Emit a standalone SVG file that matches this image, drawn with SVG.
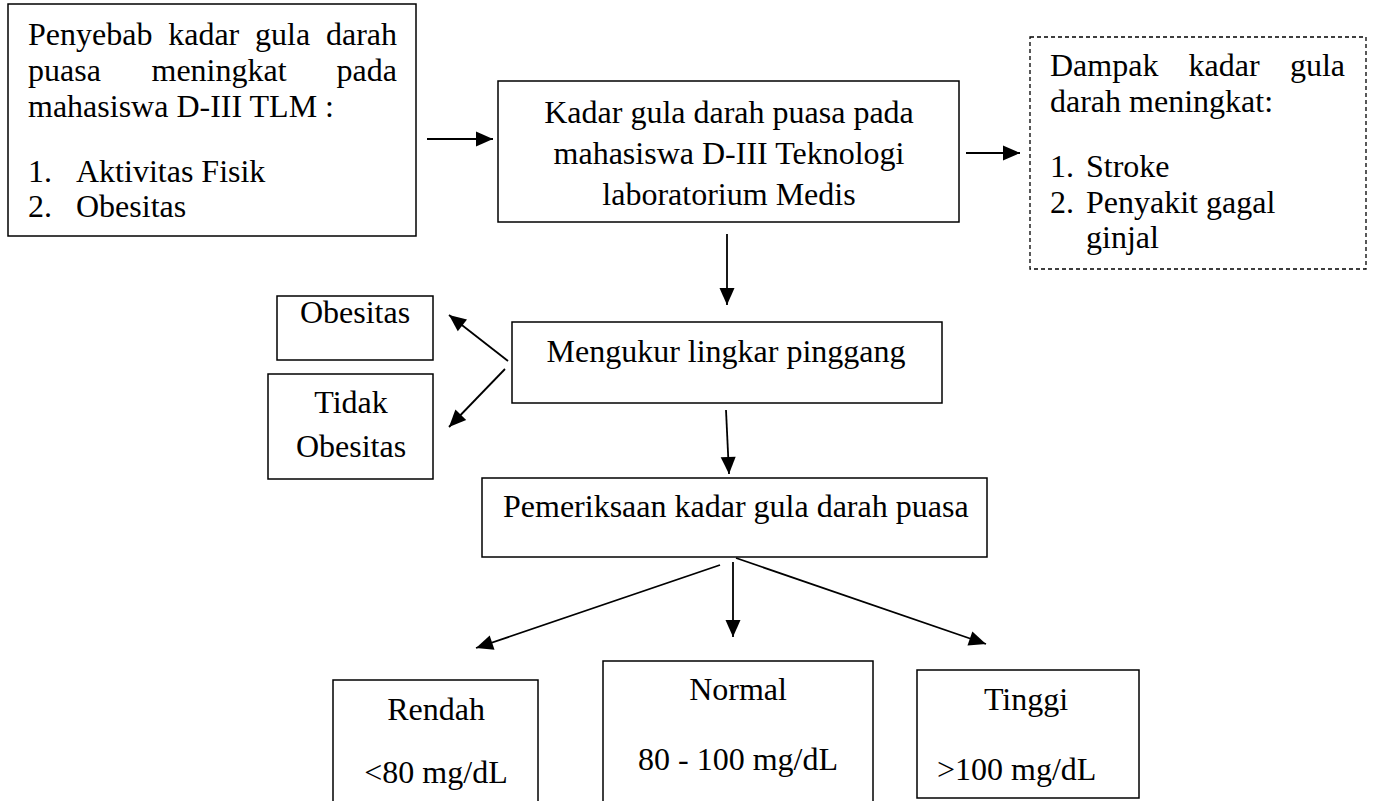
<svg xmlns="http://www.w3.org/2000/svg" width="1376" height="801" viewBox="0 0 1376 801">
  <style>
    .box { fill: #ffffff; stroke: #000000; stroke-width: 1.5; }
    .dash { fill: #ffffff; stroke: #000000; stroke-width: 1.3; stroke-dasharray: 4 3; }
    .t { font-family: "Liberation Serif", "Times New Roman", serif; font-size: 32px; fill: #000000; }
    .c { text-anchor: middle; }
    .conn { stroke: #000000; stroke-width: 1.8; fill: none; marker-end: url(#arrow); }
  </style>
  <defs>
    <marker id="arrow" markerUnits="userSpaceOnUse" markerWidth="18" markerHeight="16" refX="17" refY="8" orient="auto" overflow="visible">
      <path d="M0,0.5 L17,8 L0,15.5 z" fill="#000000"/>
    </marker>
  </defs>
  <rect width="1376" height="801" fill="#ffffff"/>

  <g id="node-penyebab">
    <rect class="box" x="8" y="4" width="408" height="232"/>
    <text class="t" y="45"><tspan x="28">Penyebab</tspan><tspan x="168.2">kadar</tspan><tspan x="255.1">gula</tspan><tspan x="397" text-anchor="end">darah</tspan></text>
    <text class="t" y="81"><tspan x="28">puasa</tspan><tspan x="151.5">meningkat</tspan><tspan x="397" text-anchor="end">pada</tspan></text>
    <text class="t" x="28" y="117">mahasiswa D-III TLM :</text>
    <text class="t" y="182"><tspan x="28">1.</tspan><tspan x="76">Aktivitas Fisik</tspan></text>
    <text class="t" y="217"><tspan x="28">2.</tspan><tspan x="76">Obesitas</tspan></text>
  </g>

  <g id="node-kadar">
    <rect class="box" x="498" y="81" width="461" height="141"/>
    <text class="t c" x="729" y="123">Kadar gula darah puasa pada</text>
    <text class="t c" x="729" y="164">mahasiswa D-III Teknologi</text>
    <text class="t c" x="729" y="205">laboratorium Medis</text>
  </g>

  <g id="node-dampak">
    <rect class="dash" x="1030" y="37" width="336" height="232"/>
    <text class="t" y="76"><tspan x="1050">Dampak</tspan><tspan x="1188.5">kadar</tspan><tspan x="1345" text-anchor="end">gula</tspan></text>
    <text class="t" x="1050" y="112">darah meningkat:</text>
    <text class="t" y="177"><tspan x="1050">1.</tspan><tspan x="1086">Stroke</tspan></text>
    <text class="t" y="213"><tspan x="1050">2.</tspan><tspan x="1086">Penyakit gagal</tspan></text>
    <text class="t" x="1086" y="248">ginjal</text>
  </g>

  <g id="node-mengukur">
    <rect class="box" x="512" y="322" width="430" height="81"/>
    <text class="t c" x="726" y="362">Mengukur lingkar pinggang</text>
  </g>

  <g id="node-obesitas">
    <rect class="box" x="277" y="296" width="156" height="64"/>
    <text class="t c" x="355" y="323">Obesitas</text>
  </g>

  <g id="node-tidak-obesitas">
    <rect class="box" x="268" y="374" width="165" height="105"/>
    <text class="t c" x="351" y="413">Tidak</text>
    <text class="t c" x="351" y="457">Obesitas</text>
  </g>

  <g id="node-pemeriksaan">
    <rect class="box" x="482" y="478" width="505" height="79"/>
    <text class="t" x="503" y="517">Pemeriksaan kadar gula darah puasa</text>
  </g>

  <g id="node-rendah">
    <rect class="box" x="333" y="680" width="205" height="122"/>
    <text class="t c" x="436" y="720">Rendah</text>
    <text class="t c" x="436" y="783">&lt;80 mg/dL</text>
  </g>

  <g id="node-normal">
    <rect class="box" x="603" y="661" width="270" height="141"/>
    <text class="t c" x="738" y="700">Normal</text>
    <text class="t c" x="738" y="770">80 - 100 mg/dL</text>
  </g>

  <g id="node-tinggi">
    <rect class="box" x="917" y="670" width="222" height="128"/>
    <text class="t c" x="1026" y="710">Tinggi</text>
    <text class="t" x="937" y="780">&gt;100 mg/dL</text>
  </g>

  <g id="connectors">
    <line class="conn" x1="427" y1="139" x2="493" y2="139"/>
    <line class="conn" x1="966" y1="153" x2="1020" y2="153"/>
    <line class="conn" x1="727" y1="234" x2="727" y2="305"/>
    <line class="conn" x1="508" y1="361" x2="449" y2="315"/>
    <line class="conn" x1="505" y1="369" x2="449" y2="427"/>
    <line class="conn" x1="726" y1="410" x2="729" y2="474"/>
    <line class="conn" x1="720" y1="565" x2="476" y2="648"/>
    <line class="conn" x1="733" y1="562" x2="733" y2="637"/>
    <line class="conn" x1="736" y1="558" x2="986" y2="644"/>
  </g>
</svg>
